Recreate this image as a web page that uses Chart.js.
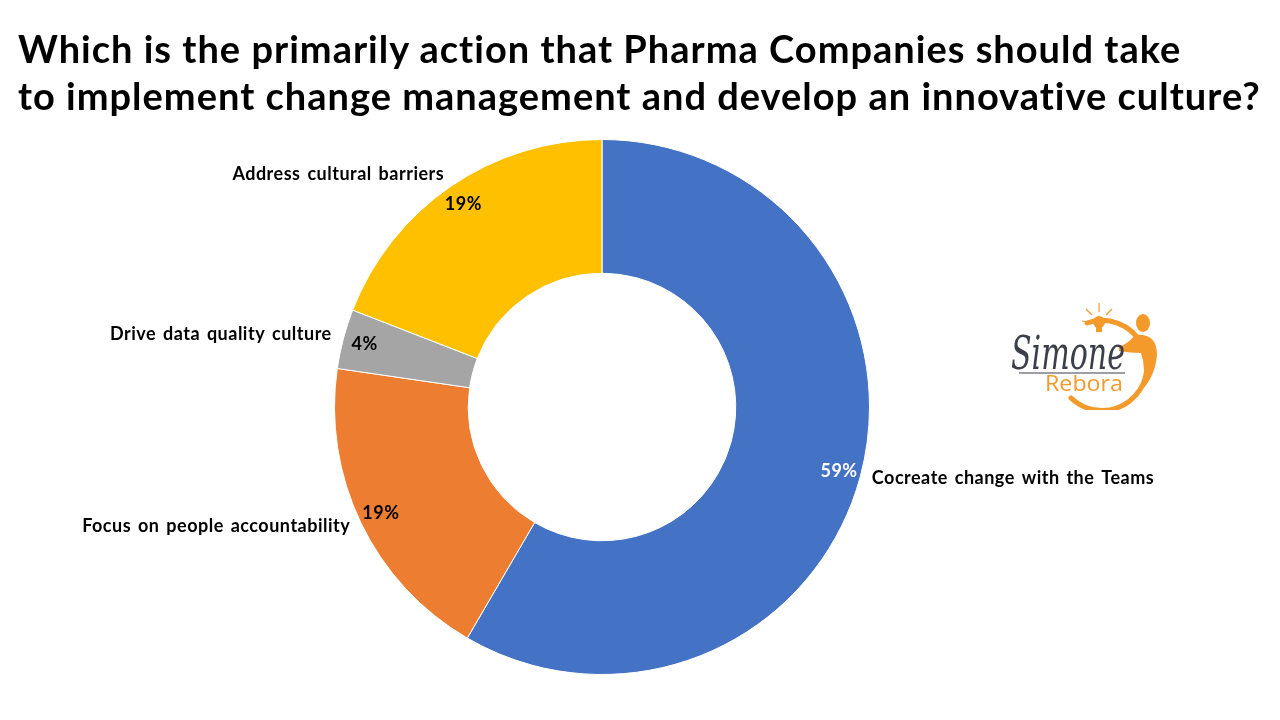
<!DOCTYPE html>
<html>
<head>
<meta charset="utf-8">
<script src="https://cdn.jsdelivr.net/npm/chart.js@4.4.1/dist/chart.umd.min.js"></script>
<style>
  html, body { margin: 0; padding: 0; background: #fff; }
  #wrap { position: relative; width: 1280px; height: 720px; overflow: hidden; }
  #title {
    position: absolute; left: 18px; top: 25px;
    font-family: Lato, "Open Sans", sans-serif; font-weight: 700;
    font-size: 38px; line-height: 47px; letter-spacing: 1px;
    color: #000; white-space: nowrap;
  }
  #logo { position: absolute; left: 995px; top: 295px; }
  canvas { position: absolute; left: 0; top: 0; }
</style>
</head>
<body>
<div id="wrap">
  <canvas id="chart" width="1280" height="720"></canvas>
  <div id="title">Which is the primarily action that Pharma Companies should take<br>to implement change management and develop an innovative culture?</div>
  <svg id="logo" width="180" height="115" viewBox="0 0 180 115">
    <!-- orange ring -->
    <path d="M 92 28 A 45 45 0 1 1 76 103" fill="none" stroke="#F39A2B" stroke-width="5" stroke-linecap="round"/>
    <!-- bulb -->
    <circle cx="104" cy="27" r="6" fill="#F39A2B"/>
    <rect x="101" y="32" width="6" height="5" fill="#F39A2B"/>
    <g stroke="#F39A2B" stroke-width="1.2">
      <line x1="104" y1="17" x2="104" y2="8"/>
      <line x1="97" y1="20" x2="91" y2="14"/>
      <line x1="111" y1="20" x2="117" y2="14"/>
      <line x1="94" y1="27" x2="87" y2="26"/>
      <line x1="114" y1="27" x2="121" y2="26"/>
    </g>
    <!-- figure -->
    <ellipse cx="148" cy="28" rx="7" ry="9" fill="#F39A2B"/>
    <path d="M 140 40 Q 162 38 162 60 Q 160 82 146 96 Q 152 74 146 58 Q 136 58 124 56 L 124 52 Q 134 48 140 40 Z" fill="#F39A2B"/>
    <text x="16" y="74" font-family="'DejaVu Serif', serif" font-style="italic" font-size="46" fill="#3a3f4a" textLength="114" lengthAdjust="spacingAndGlyphs">Simone</text>
    <line x1="24" y1="78" x2="130" y2="78" stroke="#3a3f4a" stroke-width="1"/>
    <text x="50" y="96" font-family="'Open Sans', sans-serif" font-size="21" fill="#F39A2B" textLength="78" lengthAdjust="spacingAndGlyphs">Rebora</text>
  </svg>
</div>
<script>
// categories, values (share of answers, %) and the printed percentage labels
const categories = [
  'Cocreate change with the Teams',
  'Focus on people accountability',
  'Drive data quality culture',
  'Address cultural barriers'
];
const shares = [58.4, 18.9, 3.6, 19.1];
const percentLabels = ['59%', '19%', '4%', '19%'];
const sliceColors = ['#4472C4', '#ED7D31', '#A5A5A5', '#FFC000'];
const percentColors = ['#FFFFFF', '#000000', '#000000', '#000000'];

// draw the category name just outside each slice and the percentage inside the ring
const sliceLabels = {
  id: 'sliceLabels',
  afterDatasetsDraw(chart) {
    const ctx = chart.ctx;
    const meta = chart.getDatasetMeta(0);
    meta.data.forEach((arc, i) => {
      const { x, y, startAngle, endAngle, outerRadius } = arc.getProps(
        ['x', 'y', 'startAngle', 'endAngle', 'outerRadius'], true);
      const mid = (startAngle + endAngle) / 2;
      const cos = Math.cos(mid), sin = Math.sin(mid);

      ctx.save();
      ctx.font = '700 18px Lato, "Open Sans", sans-serif';
      ctx.letterSpacing = '0.5px';
      ctx.wordSpacing = '2px';
      ctx.textBaseline = 'middle';

      // percentage
      ctx.fillStyle = percentColors[i];
      ctx.textAlign = 'center';
      const rIn = outerRadius - 22;
      ctx.fillText(percentLabels[i], x + cos * rIn, y + sin * rIn);

      // category name
      ctx.fillStyle = '#000';
      const rOut = outerRadius + 12;
      ctx.textAlign = cos >= 0 ? 'left' : 'right';
      ctx.fillText(categories[i], x + cos * rOut, y + sin * rOut - 2);
      ctx.restore();
    });
  }
};

const ctx = document.getElementById('chart').getContext('2d');
new Chart(ctx, {
  type: 'doughnut',
  data: {
    labels: categories,
    datasets: [{
      data: shares,
      backgroundColor: sliceColors,
      borderColor: '#FFFFFF',
      borderWidth: 1,
      hoverOffset: 0
    }]
  },
  options: {
    responsive: false,
    animation: false,
    cutout: '50%',
    layout: { padding: { left: 334, right: 410, top: 139, bottom: 45 } },
    plugins: {
      legend: { display: false },
      tooltip: { enabled: false },
      title: { display: false }
    }
  },
  plugins: [sliceLabels]
});
</script>
</body>
</html>
